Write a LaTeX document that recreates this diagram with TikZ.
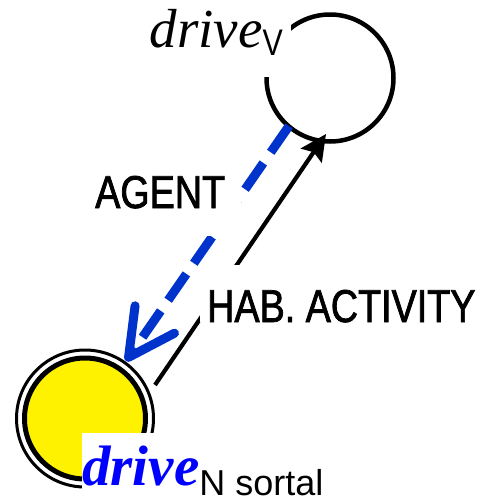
\documentclass[tikz,border=0pt]{standalone}
\usepackage{fontspec}
\setmainfont{Liberation Serif}
\newfontfamily\narrow[FakeStretch=0.82]{Liberation Sans}
\newfontfamily\subsans[FakeStretch=1.0]{Liberation Sans}
\newfontfamily\narrowb[FakeStretch=0.82,FakeBold=1.6]{Liberation Sans}
\usetikzlibrary{arrows.meta}
\definecolor{agentblue}{RGB}{0,51,204}
\definecolor{drivblue}{RGB}{0,0,255}
\begin{document}
\begin{tikzpicture}[x=1pt,y=-1pt,
  lab/.style={fill=white,inner ysep=0pt,font=\narrowb\fontsize{46}{50}\selectfont}]
\useasboundingbox (0,0) rectangle (481,501);
% nodes
\node[circle,draw,line width=4.5pt,minimum size=127pt,inner sep=0pt] (topc) at (330,78) {};
\node[circle,draw,line width=5pt,fill=yellow,minimum size=121pt,inner sep=0pt] (botc) at (85,418.5) {};
\draw[line width=3pt] (botc.center) circle (68.5pt);
% connector ends
\coordinate (bs) at (289,126);
\coordinate (be) at (126,361);
\coordinate (ks) at (155,385);
\coordinate (ke) at (326,134);
% connectors
\draw[agentblue,line width=9pt,dash pattern=on 32pt off 13pt,
  -{Straight Barb[length=46pt,width=48pt,round]}] (bs) -- (be);
\draw[line width=4.2pt,-{Stealth[length=26pt,width=25pt,inset=4pt]}] (ks) -- (ke);
% labels
\node[lab,inner xsep=16pt,text depth=28pt,anchor=base west] (agent) at (79,208) {AGENT};
\node[lab,inner xsep=7pt,text height=57pt,anchor=base west] (hab) at (200,322) {HAB. ACTIVITY};
\node[fill=white,inner xsep=8pt,inner ysep=0pt,text depth=30pt,anchor=base east] (toplab) at (291,47)
  {\fontsize{55}{60}\selectfont\itshape drive\raisebox{-8pt}{\narrow\upshape\fontsize{37}{40}\selectfont V}};
\node[fill=white,inner sep=0pt,text height=52pt,anchor=base west] (botlab) at (82,485)
  {\textcolor{drivblue}{\fontsize{57}{60}\selectfont\bfseries\itshape drive}\raisebox{-10pt}{\subsans\fontsize{36}{40}\selectfont N sortal}};
\end{tikzpicture}
\end{document}
